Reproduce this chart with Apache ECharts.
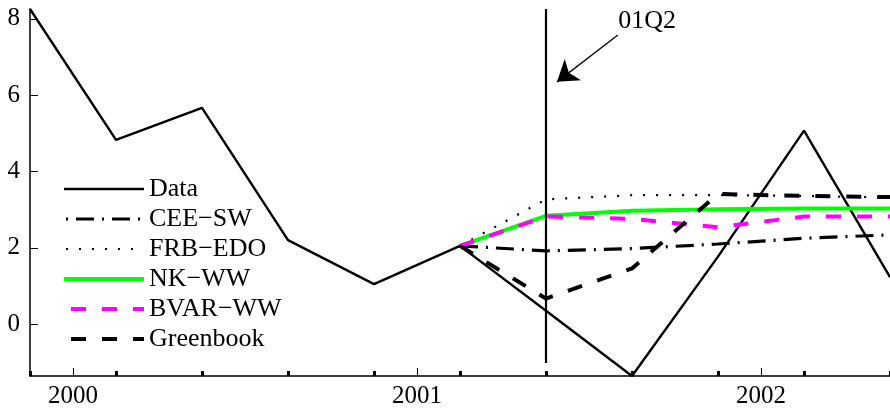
<!DOCTYPE html>
<html>
<head>
<meta charset="utf-8">
<script src="https://cdn.jsdelivr.net/npm/echarts@6/dist/echarts.min.js"></script>
<style>html,body{margin:0;padding:0;background:#fff}#c{width:890px;height:409px}</style>
</head>
<body>
<div id="c"></div>
<script>
// ---- data ----
const quarters = ['1999Q4','2000Q1','2000Q2','2000Q3','2000Q4','2001Q1','2001Q2','2001Q3','2001Q4','2002Q1','2002Q2'];
const actual = [8.26, 4.83, 5.67, 2.20, 1.05, 2.05, 0.35, -1.36, 1.77, 5.07, 1.23];
const forecastQuarters = ['2001Q1','2001Q2','2001Q3','2001Q4','2002Q1','2002Q2'];
const ceeSW = [2.05, 1.92, 1.98, 2.10, 2.25, 2.34];
const frbEDO = [2.05, 3.27, 3.38, 3.38, 3.36, 3.32];
const nkWW = [2.05, 2.84, 2.97, 3.01, 3.03, 3.03];
const bvarWW = [2.05, 2.82, 2.76, 2.54, 2.82, 2.82];
const greenbook = [2.05, 0.67, 1.46, 3.41, 3.36, 3.33];
const seriesNames = ['Data', 'CEE\u2212SW', 'FRB\u2212EDO', 'NK\u2212WW', 'BVAR\u2212WW', 'Greenbook'];
const yearTicks = [2000, 2001, 2002];
const yTicks = [0, 2, 4, 6, 8];
const yRange = [-1.36, 8.26];
const markerQuarter = '2001Q2';
const markerLabel = '01Q2';
const markerLineRange = [-1.02, 8.26];
const arrowFrom = [2001.584, 7.58];
const arrowTo = [2001.407, 6.35];
const labelAt = [2001.669, 7.93];

// ---- styles ----
const styles = [
  { color: '#000', width: 2.4, type: 'solid' },
  { color: '#000', width: 3.2, type: [18, 8, 2, 8] },
  { color: '#000', width: 2.2, type: [2, 11] },
  { color: '#00ff00', width: 4, type: 'solid' },
  { color: '#ff00ff', width: 4, type: [15, 16] },
  { color: '#000', width: 4, type: [15, 16] }
];

// ---- helpers ----
function toYear(q) { const y = +q.slice(0, 4), n = +q.slice(5); return y + (n - 0.5) / 4; }
function pairs(qs, vals) { return qs.map((q, i) => [toYear(q), vals[i]]); }

const FONT = 'Liberation Serif';
const xMin = toYear(quarters[0]), xMax = toYear(quarters[quarters.length - 1]);
const quarterTicks = quarters.map(toYear);
const seriesData = [
  pairs(quarters, actual), pairs(forecastQuarters, ceeSW), pairs(forecastQuarters, frbEDO),
  pairs(forecastQuarters, nkWW), pairs(forecastQuarters, bvarWW), pairs(forecastQuarters, greenbook)
];

const chart = echarts.init(document.getElementById('c'), null, { renderer: 'canvas' });
chart.setOption({
  animation: false,
  grid: { left: 30, right: 0, top: 9, bottom: 33, containLabel: false },
  legend: {
    orient: 'vertical', left: 57, top: 171,
    itemWidth: 80, itemHeight: 14, itemGap: 4,
    data: seriesNames.map((n, i) => ({
      name: n,
      lineStyle: Object.assign({}, styles[i], i === 1 ? { dashOffset: 24 } : {})
    })),
    itemStyle: { opacity: 0, borderWidth: 0 },
    textStyle: { fontFamily: FONT, fontSize: 26, color: '#000', lineHeight: 26 }
  },
  xAxis: [{
    type: 'value', min: xMin, max: xMax, position: 'bottom',
    axisLine: { onZero: false, lineStyle: { color: '#000', width: 1.5 } },
    axisTick: { inside: true, length: 8, customValues: yearTicks, lineStyle: { color: '#000', width: 1 } },
    axisLabel: { customValues: yearTicks, formatter: v => String(Math.round(v)), fontFamily: FONT, fontSize: 25, color: '#000', margin: 8 },
    splitLine: { show: false }
  }, {
    type: 'value', min: xMin, max: xMax, position: 'bottom', offset: 0,
    axisLine: { show: false, onZero: false },
    axisTick: { inside: true, length: 5, customValues: quarterTicks, lineStyle: { color: '#000', width: 3 } },
    axisLabel: { show: false, customValues: quarterTicks },
    splitLine: { show: false }
  }],
  yAxis: {
    type: 'value', min: yRange[0], max: yRange[1],
    axisLine: { show: true, onZero: false, lineStyle: { color: '#000', width: 1.5 } },
    axisTick: { show: true, inside: true, length: 8, customValues: yTicks, lineStyle: { color: '#000', width: 1 } },
    axisLabel: { customValues: yTicks, formatter: v => String(Math.round(v)), fontFamily: FONT, fontSize: 25, color: '#000', margin: 10 },
    splitLine: { show: false }
  },
  series: seriesNames.map((n, i) => ({
    name: n, type: 'line', data: seriesData[i], symbol: 'none', symbolSize: 0, showSymbol: false, z: 2 + i,
    lineStyle: styles[i], itemStyle: { color: styles[i].color }
  })).concat([{
    name: 'marker', type: 'line', symbol: 'none', z: 9, silent: true,
    data: markerLineRange.map(v => [toYear(markerQuarter), v]),
    lineStyle: { color: '#000', width: 2.2 },
    markLine: {
      silent: true, symbol: ['none', 'arrow'], symbolSize: 20,
      lineStyle: { color: '#000', width: 1.3, type: 'solid' },
      label: { show: false },
      data: [[{ coord: arrowFrom }, { coord: arrowTo }]]
    },
    markPoint: {
      silent: true, symbol: 'circle', symbolSize: 0,
      label: { show: true, position: 'inside', formatter: markerLabel, fontFamily: FONT, fontSize: 26, color: '#000' },
      data: [{ coord: labelAt, value: 0 }]
    }
  }])
});
</script>
</body>
</html>
